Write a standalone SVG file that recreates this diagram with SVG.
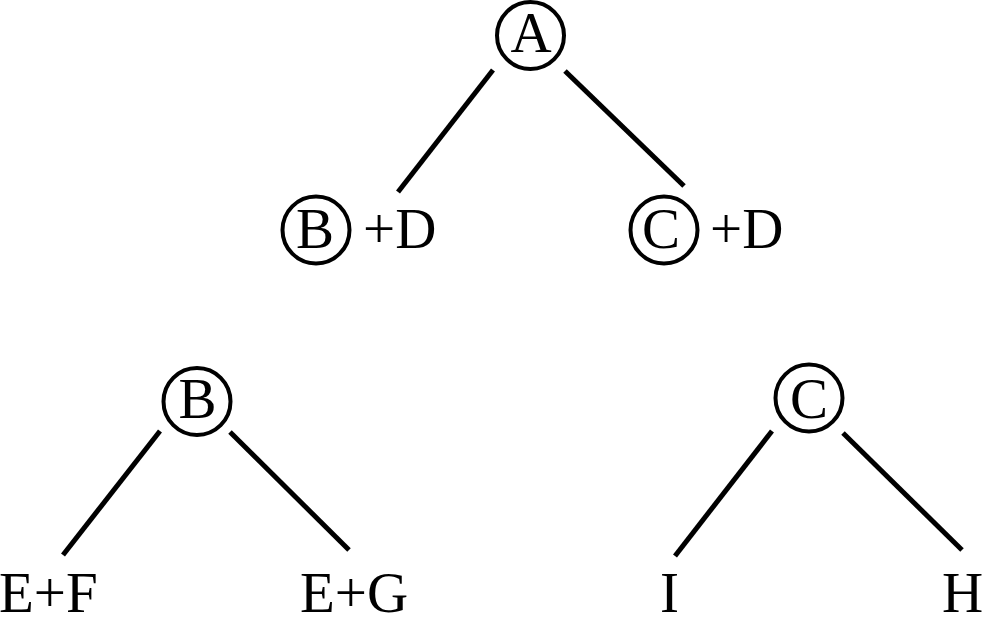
<svg xmlns="http://www.w3.org/2000/svg" width="984" height="630" viewBox="0 0 984 630">
<style>
.n{fill:none;stroke:#000;stroke-width:4}
.e{stroke:#000;stroke-width:5;fill:none}
text{font-family:"Liberation Serif","Times New Roman",serif;font-size:57px;fill:#000}
.m{text-anchor:middle}
</style>
<rect width="984" height="630" fill="#fff"/>
<g id="edges">
<line class="e" x1="493" y1="70" x2="398" y2="192"/>
<line class="e" x1="565" y1="71" x2="684" y2="186"/>
<line class="e" x1="160" y1="431" x2="63" y2="555"/>
<line class="e" x1="230" y1="432" x2="349" y2="550"/>
<line class="e" x1="772" y1="431" x2="675" y2="556"/>
<line class="e" x1="843" y1="433" x2="962" y2="550"/>
</g>
<g id="nodeA"><circle class="n" cx="530.5" cy="35.5" r="33.5"/><text class="m" x="531" y="52">A</text></g>
<g id="nodeB1"><circle class="n" cx="316" cy="230" r="33.5"/><text class="m" x="315" y="248">B</text><text x="363" y="248">+D</text></g>
<g id="nodeC1"><circle class="n" cx="664" cy="230" r="33.5"/><text class="m" x="661" y="248">C</text><text x="710" y="248">+D</text></g>
<g id="nodeB2"><circle class="n" cx="197" cy="401.5" r="33.5"/><text class="m" x="197.5" y="418">B</text></g>
<g id="nodeC2"><circle class="n" cx="809" cy="398" r="33.5"/><text class="m" x="809" y="418">C</text></g>
<g id="nodeEF"><text x="-1" y="612">E+F</text></g>
<g id="nodeEG"><text x="300" y="612">E+G</text></g>
<g id="nodeI"><text class="m" x="669.5" y="612">I</text></g>
<g id="nodeH"><text class="m" x="962.5" y="612">H</text></g>
</svg>
